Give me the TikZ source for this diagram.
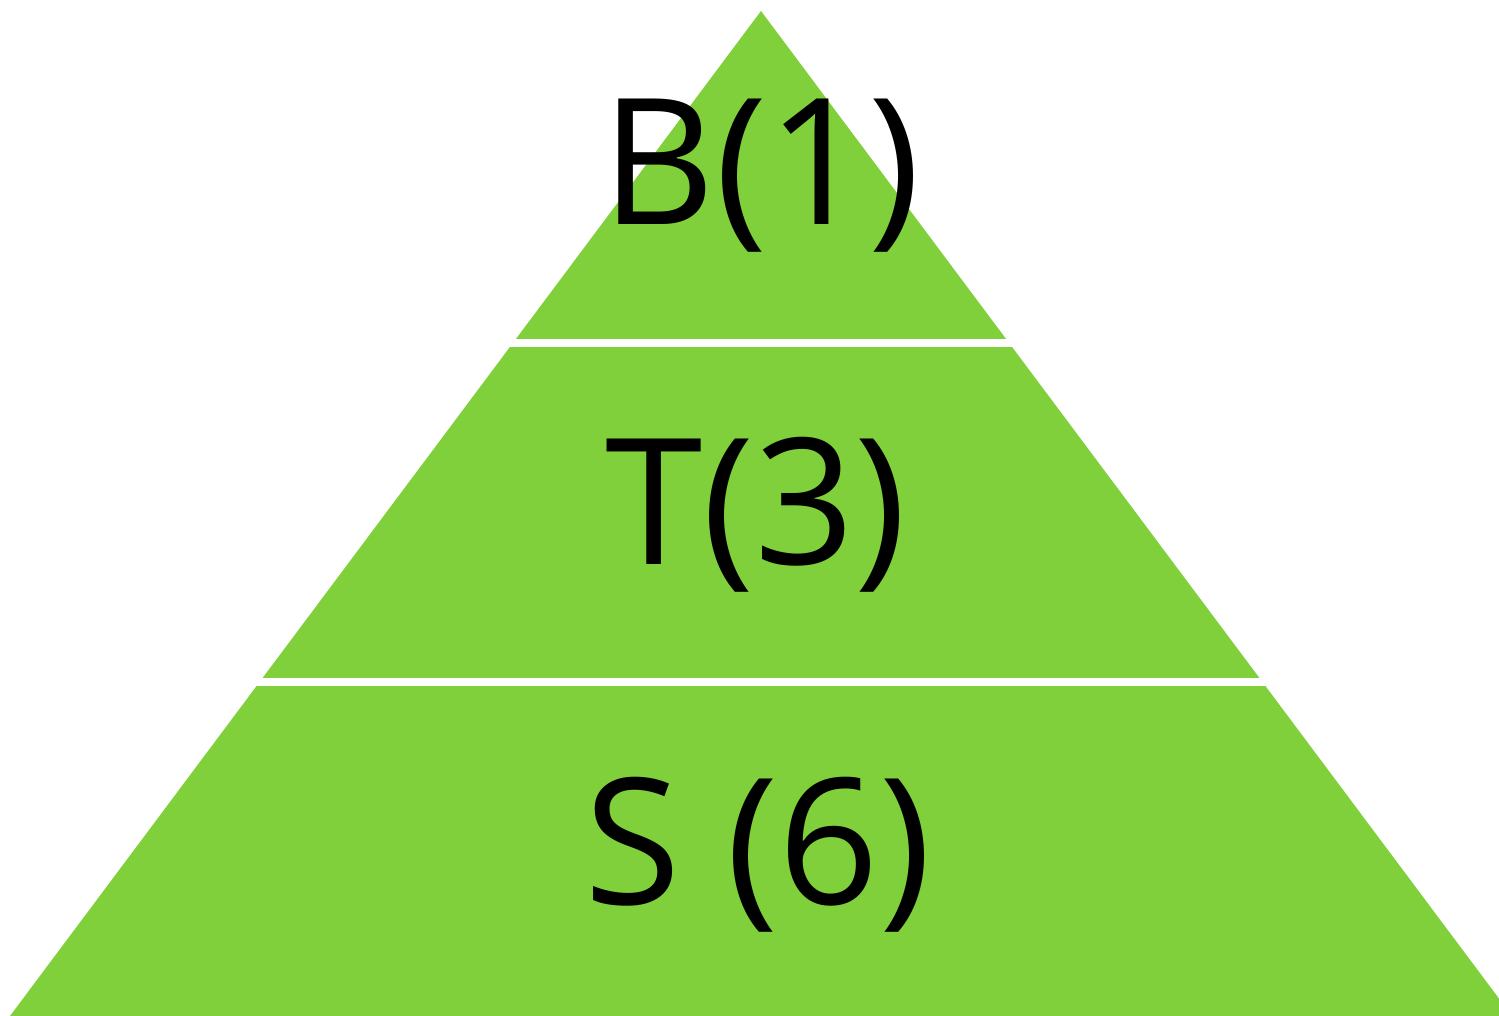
\documentclass[tikz,border=0pt]{standalone}
\usepackage{fontspec}
\setmainfont{Open Sans}
\usetikzlibrary{positioning}
\definecolor{leaf}{RGB}{128,208,60}

\begin{document}
\begin{tikzpicture}[
  x=0.01cm, y=-0.01cm,
  every node/.style={font=\fontsize{50}{60}\selectfont, inner sep=0pt},
  layer/.style={fill=leaf},
  gap/.style={fill=white},
]
\useasboundingbox (0,0) rectangle (1499,1016);
\clip (0,0) rectangle (1499,1016);
% pyramid, cut into three bands
\fill[layer] (761,11) -- (1512,1016) -- (10,1016) -- cycle;
\fill[gap] (0,339) rectangle (1499,347);
\fill[gap] (0,678) rectangle (1499,686);
\node[anchor=base] (top) at (761,225) {B(1)};
\node[anchor=base] (mid) at (756,565) {T(3)};
\node[anchor=base] (bot) at (758,905) {S (6)};
\end{tikzpicture}
\end{document}
